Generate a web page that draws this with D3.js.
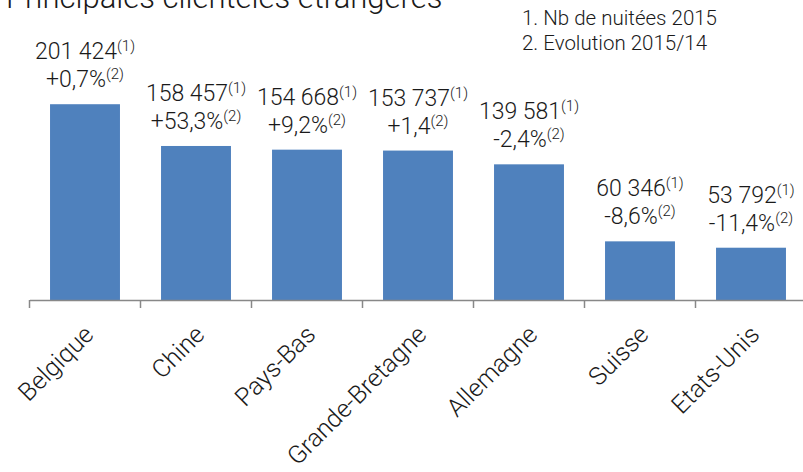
<!DOCTYPE html>
<html>
<head>
<meta charset="utf-8">
<script src="https://cdn.jsdelivr.net/npm/d3@7"></script>
<style>
  html, body { margin: 0; padding: 0; background: #fff; }
  svg { display: block; }
  text { font-family: Roboto, "Liberation Sans", sans-serif; font-weight: 300; fill: #1a1a1a; }
</style>
</head>
<body>
<svg id="chart" width="803" height="472"></svg>
<script>
const title = "Principales clientèles étrangères";
const categories = ["Belgique", "Chine", "Pays-Bas", "Grande-Bretagne", "Allemagne", "Suisse", "Etats-Unis"];
const nuitees = [201424, 158457, 154668, 153737, 139581, 60346, 53792];
const evolution = ["+0,7%", "+53,3%", "+9,2%", "+1,4", "-2,4%", "-8,6%", "-11,4%"];
const legendLines = ["1. Nb de nuitées 2015", "2. Evolution 2015/14"];

const svg = d3.select("#chart");
const axisY = 300;

const x = d3.scaleBand().domain(categories).range([29.5, 806.5]).padding(0);
const y = d3.scaleLinear().domain([0, 250000]).range([axisY, 57]);
const barW = x.bandwidth() * 0.63;

const fr = d3.formatLocale({decimal: ",", thousands: "\u00a0", grouping: [3], currency: ["", "€"]});
const fmt = fr.format(",d");

// title (partially cut at top)
svg.append("text").attr("x", 6).attr("y", 8)
  .style("font-size", "31px").text(title);

// legend
svg.selectAll(".legend").data(legendLines).enter().append("text")
  .attr("x", 522).attr("y", (d, i) => 25 + i * 25)
  .style("font-size", "20.5px").text(d => d);

// bars
svg.selectAll(".bar").data(categories).enter().append("rect")
  .attr("x", d => x(d) + (x.bandwidth() - barW) / 2)
  .attr("width", barW)
  .attr("y", (d, i) => y(nuitees[i]))
  .attr("height", (d, i) => axisY - y(nuitees[i]))
  .attr("fill", "#4f81bd");

// axis
const axis = d3.axisBottom(x).tickSize(0).tickFormat("");
const gAxis = svg.append("g").attr("transform", `translate(0,${axisY})`).call(axis);
gAxis.select(".domain").attr("stroke", "#888").attr("stroke-width", 1.5);
const bounds = categories.map(c => x(c));
gAxis.selectAll(".bt").data(bounds).enter().append("line")
  .attr("x1", d => d).attr("x2", d => d).attr("y1", 0).attr("y2", 8)
  .attr("stroke", "#888").attr("stroke-width", 1.5);

// category labels
svg.selectAll(".cat").data(categories).enter().append("text")
  .attr("transform", d => `translate(${x(d) + x.bandwidth() / 2 + 10},${axisY + 36}) rotate(-45)`)
  .attr("text-anchor", "end")
  .style("font-size", "25px")
  .text(d => d);

// value labels
const lab = svg.selectAll(".lab").data(categories).enter().append("text")
  .attr("text-anchor", "middle")
  .style("font-size", "23px");

lab.each(function(d, i) {
  const t = d3.select(this);
  const top = y(nuitees[i]);
  const cx = x(d) + x.bandwidth() / 2;
  t.append("tspan").attr("x", cx).attr("y", top - 45).text(fmt(nuitees[i]));
  t.append("tspan").attr("dy", -8).style("font-size", "15px").text("(1)");
  t.append("tspan").attr("x", cx).attr("y", top - 17).text(evolution[i]);
  t.append("tspan").attr("dy", -8).style("font-size", "15px").text("(2)");
});
</script>
</body>
</html>
